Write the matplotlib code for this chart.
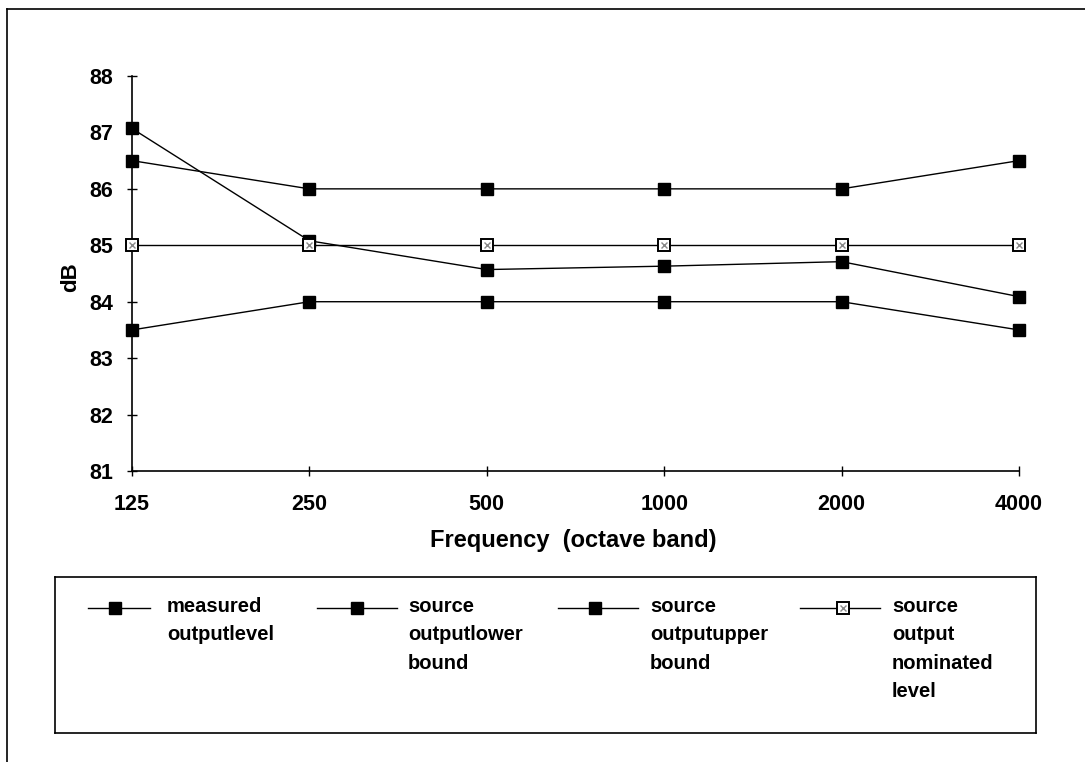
import matplotlib
matplotlib.use("Agg")
import matplotlib.pyplot as plt
from matplotlib.lines import Line2D

plt.rcParams['font.family'] = ['Liberation Sans', 'DejaVu Sans']

categories = ["125", "250", "500", "1000", "2000", "4000"]
measured = [87.07, 85.08, 84.57, 84.63, 84.71, 84.09]
lower = [83.5, 84.0, 84.0, 84.0, 84.0, 83.5]
upper = [86.5, 86.0, 86.0, 86.0, 86.0, 86.5]
nominal = [85.0, 85.0, 85.0, 85.0, 85.0, 85.0]
yticks = [81, 82, 83, 84, 85, 86, 87, 88]
legend_labels = ["measured\noutputlevel", "source\noutputlower\nbound",
                 "source\noutputupper\nbound", "source\noutput\nnominated\nlevel"]

W, H = 1085, 762
fig = plt.figure(figsize=(W / 100, H / 100), dpi=100)

def fx(px):
    return px / W

def fy(py):
    return 1 - py / H

ax = fig.add_axes([fx(132), fy(471), fx(1019) - fx(132), fy(76) - fy(471)])
x = list(range(len(categories)))

lw = 1.0
ms = 8.5
for series in (measured, lower, upper):
    ax.plot(x, series, color='black', lw=lw, marker='s', ms=ms, mfc='black', mec='black',
            zorder=3, clip_on=False)
ax.plot(x, nominal, color='black', lw=lw, marker='s', ms=8, mfc='white', mec='black', mew=1.4,
        zorder=4, clip_on=False)
ax.plot(x, nominal, ls='none', marker='x', ms=4, mec='#888888', mew=1.0, zorder=5, clip_on=False)

ax.set_xlim(0, len(categories) - 1)
ax.set_ylim(min(yticks), max(yticks))
ax.set_xticks(x)
ax.set_xticklabels(categories)
ax.set_yticks(yticks)
ax.set_yticklabels([str(v) for v in yticks])
for s in ['top', 'right']:
    ax.spines[s].set_visible(False)
for s in ['left', 'bottom']:
    ax.spines[s].set_linewidth(1.2)
ax.tick_params(axis='both', direction='inout', length=7, width=1.0, labelsize=15.5)
ax.tick_params(axis='x', pad=13)
ax.tick_params(axis='y', pad=10)
for lab in ax.get_xticklabels() + ax.get_yticklabels():
    lab.set_fontweight('bold')

fig.text(fx(573), fy(541), "Frequency  (octave band)", ha='center', va='center',
         fontsize=17, fontweight='bold')
fig.text(fx(71), fy(277), "dB", ha='center', va='center', rotation=90,
         fontsize=16, fontweight='bold')

# legend box
lax = fig.add_axes([fx(55), fy(733), fx(1036) - fx(55), fy(577) - fy(733)])
lax.set_xlim(55, 1036)
lax.set_ylim(733, 577)
lax.set_xticks([])
lax.set_yticks([])
for s in lax.spines.values():
    s.set_linewidth(1.2)

handles = [(88, 150, 115), (317, 397, 357), (558, 638, 595), (800, 880, 843)]
text_x = [167, 408, 650, 892]
ly = 608
for i, (h, tx, lab) in enumerate(zip(handles, text_x, legend_labels)):
    x0, x1, xm = h
    lax.add_line(Line2D([x0, x1], [ly, ly], color='black', lw=1.0))
    if i < 3:
        lax.add_line(Line2D([xm], [ly], ls='none', marker='s', ms=ms, mfc='black', mec='black'))
    else:
        lax.add_line(Line2D([xm], [ly], ls='none', marker='s', ms=8, mfc='white', mec='black', mew=1.4))
        lax.add_line(Line2D([xm], [ly], ls='none', marker='x', ms=4, mec='#888888', mew=1.0))
    lax.text(tx, ly - 11, lab, ha='left', va='top', fontsize=14.5, fontweight='bold', linespacing=1.62)

# outer frame (partial, as in reference)
fig.add_artist(Line2D([fx(7), fx(1085)], [fy(9), fy(9)], color='black', lw=1.2))
fig.add_artist(Line2D([fx(7), fx(7)], [fy(9), fy(762)], color='black', lw=1.2))

fig.savefig("out.png", dpi=100)
